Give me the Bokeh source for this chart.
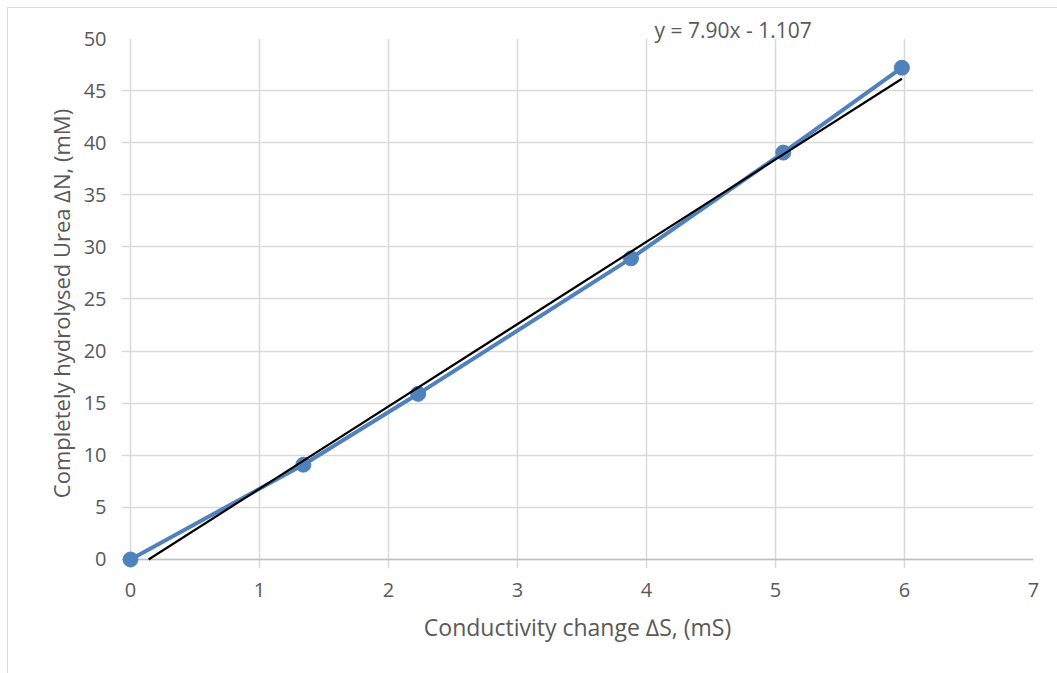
from bokeh.plotting import figure
from bokeh.models import Title, FixedTicker
from bokeh.embed import file_html
from bokeh.resources import INLINE

# data
conductivity = [0.0, 1.34, 2.23, 3.88, 5.06, 5.98]
urea = [0.0, 9.1, 15.9, 28.9, 39.05, 47.2]
slope = 7.90
intercept = -1.107
x_ticks = [0, 1, 2, 3, 4, 5, 6, 7]
y_ticks = [0, 5, 10, 15, 20, 25, 30, 35, 40, 45, 50]

FONT = "Open Sans"
GRID = "#d9d9d9"
TXT = "#595959"

p = figure(width=1050, height=666, x_range=(-0.0698, 7), y_range=(-0.864, 50),
           output_backend="svg", toolbar_location=None,
           min_border_left=113, min_border_right=25, min_border_top=30, min_border_bottom=106)
p.margin = (7, 0, 0, 7)
p.styles = {"border-left": "1px solid #d9d9d9", "border-top": "1px solid #d9d9d9"}
p.outline_line_color = None
p.background_fill_color = "white"
p.border_fill_color = "white"

for ax in (p.xaxis[0], p.yaxis[0]):
    ax.major_tick_line_color = None
    ax.minor_tick_line_color = None
    ax.axis_line_color = None
    ax.major_label_text_color = TXT
    ax.major_label_text_font = FONT
    ax.major_label_text_font_size = "20px"
    ax.axis_label_text_color = TXT
    ax.axis_label_text_font = FONT
    ax.axis_label_text_font_style = "normal"

p.xaxis.axis_label_text_font_size = "23px"
p.yaxis.axis_label_text_font_size = "22px"
p.xaxis.ticker = FixedTicker(ticks=x_ticks)
p.yaxis.ticker = FixedTicker(ticks=y_ticks)
p.xaxis.major_label_standoff = 8
p.yaxis.major_label_standoff = 9
p.xaxis.axis_label = "Conductivity change \u2206S, (mS)"
p.yaxis.axis_label = "Completely hydrolysed Urea \u2206N, (mM)"
p.xaxis.axis_label_standoff = 11
p.yaxis.axis_label_standoff = 5

p.xgrid.ticker = FixedTicker(ticks=x_ticks)
p.ygrid.ticker = FixedTicker(ticks=y_ticks)
p.xgrid.bounds = (y_ticks[0], y_ticks[-1])
p.ygrid.bounds = (x_ticks[0], x_ticks[-1])
p.grid.grid_line_color = GRID
p.grid.grid_line_width = 1.5

# horizontal axis line
p.segment(x0=[x_ticks[0]], y0=[y_ticks[0]], x1=[x_ticks[-1]], y1=[y_ticks[0]],
          line_color="#bfbfbf", line_width=1.5)

blue = "#4f81bd"
p.line(conductivity, urea, line_color=blue, line_width=4)
p.scatter(conductivity, urea, size=15, fill_color=blue, line_color=blue)

x0 = -intercept / slope
x1 = max(conductivity)
p.line([x0, x1], [slope * x0 + intercept, slope * x1 + intercept], line_color="black", line_width=2.2)

eq = Title(text="y = 7.90x - 1.107", text_font=FONT, text_font_size="21px",
           text_color=TXT, text_font_style="normal", align="left", offset=533, standoff=-11)
p.add_layout(eq, "above")

open("out.html", "w").write(file_html(p, INLINE))
